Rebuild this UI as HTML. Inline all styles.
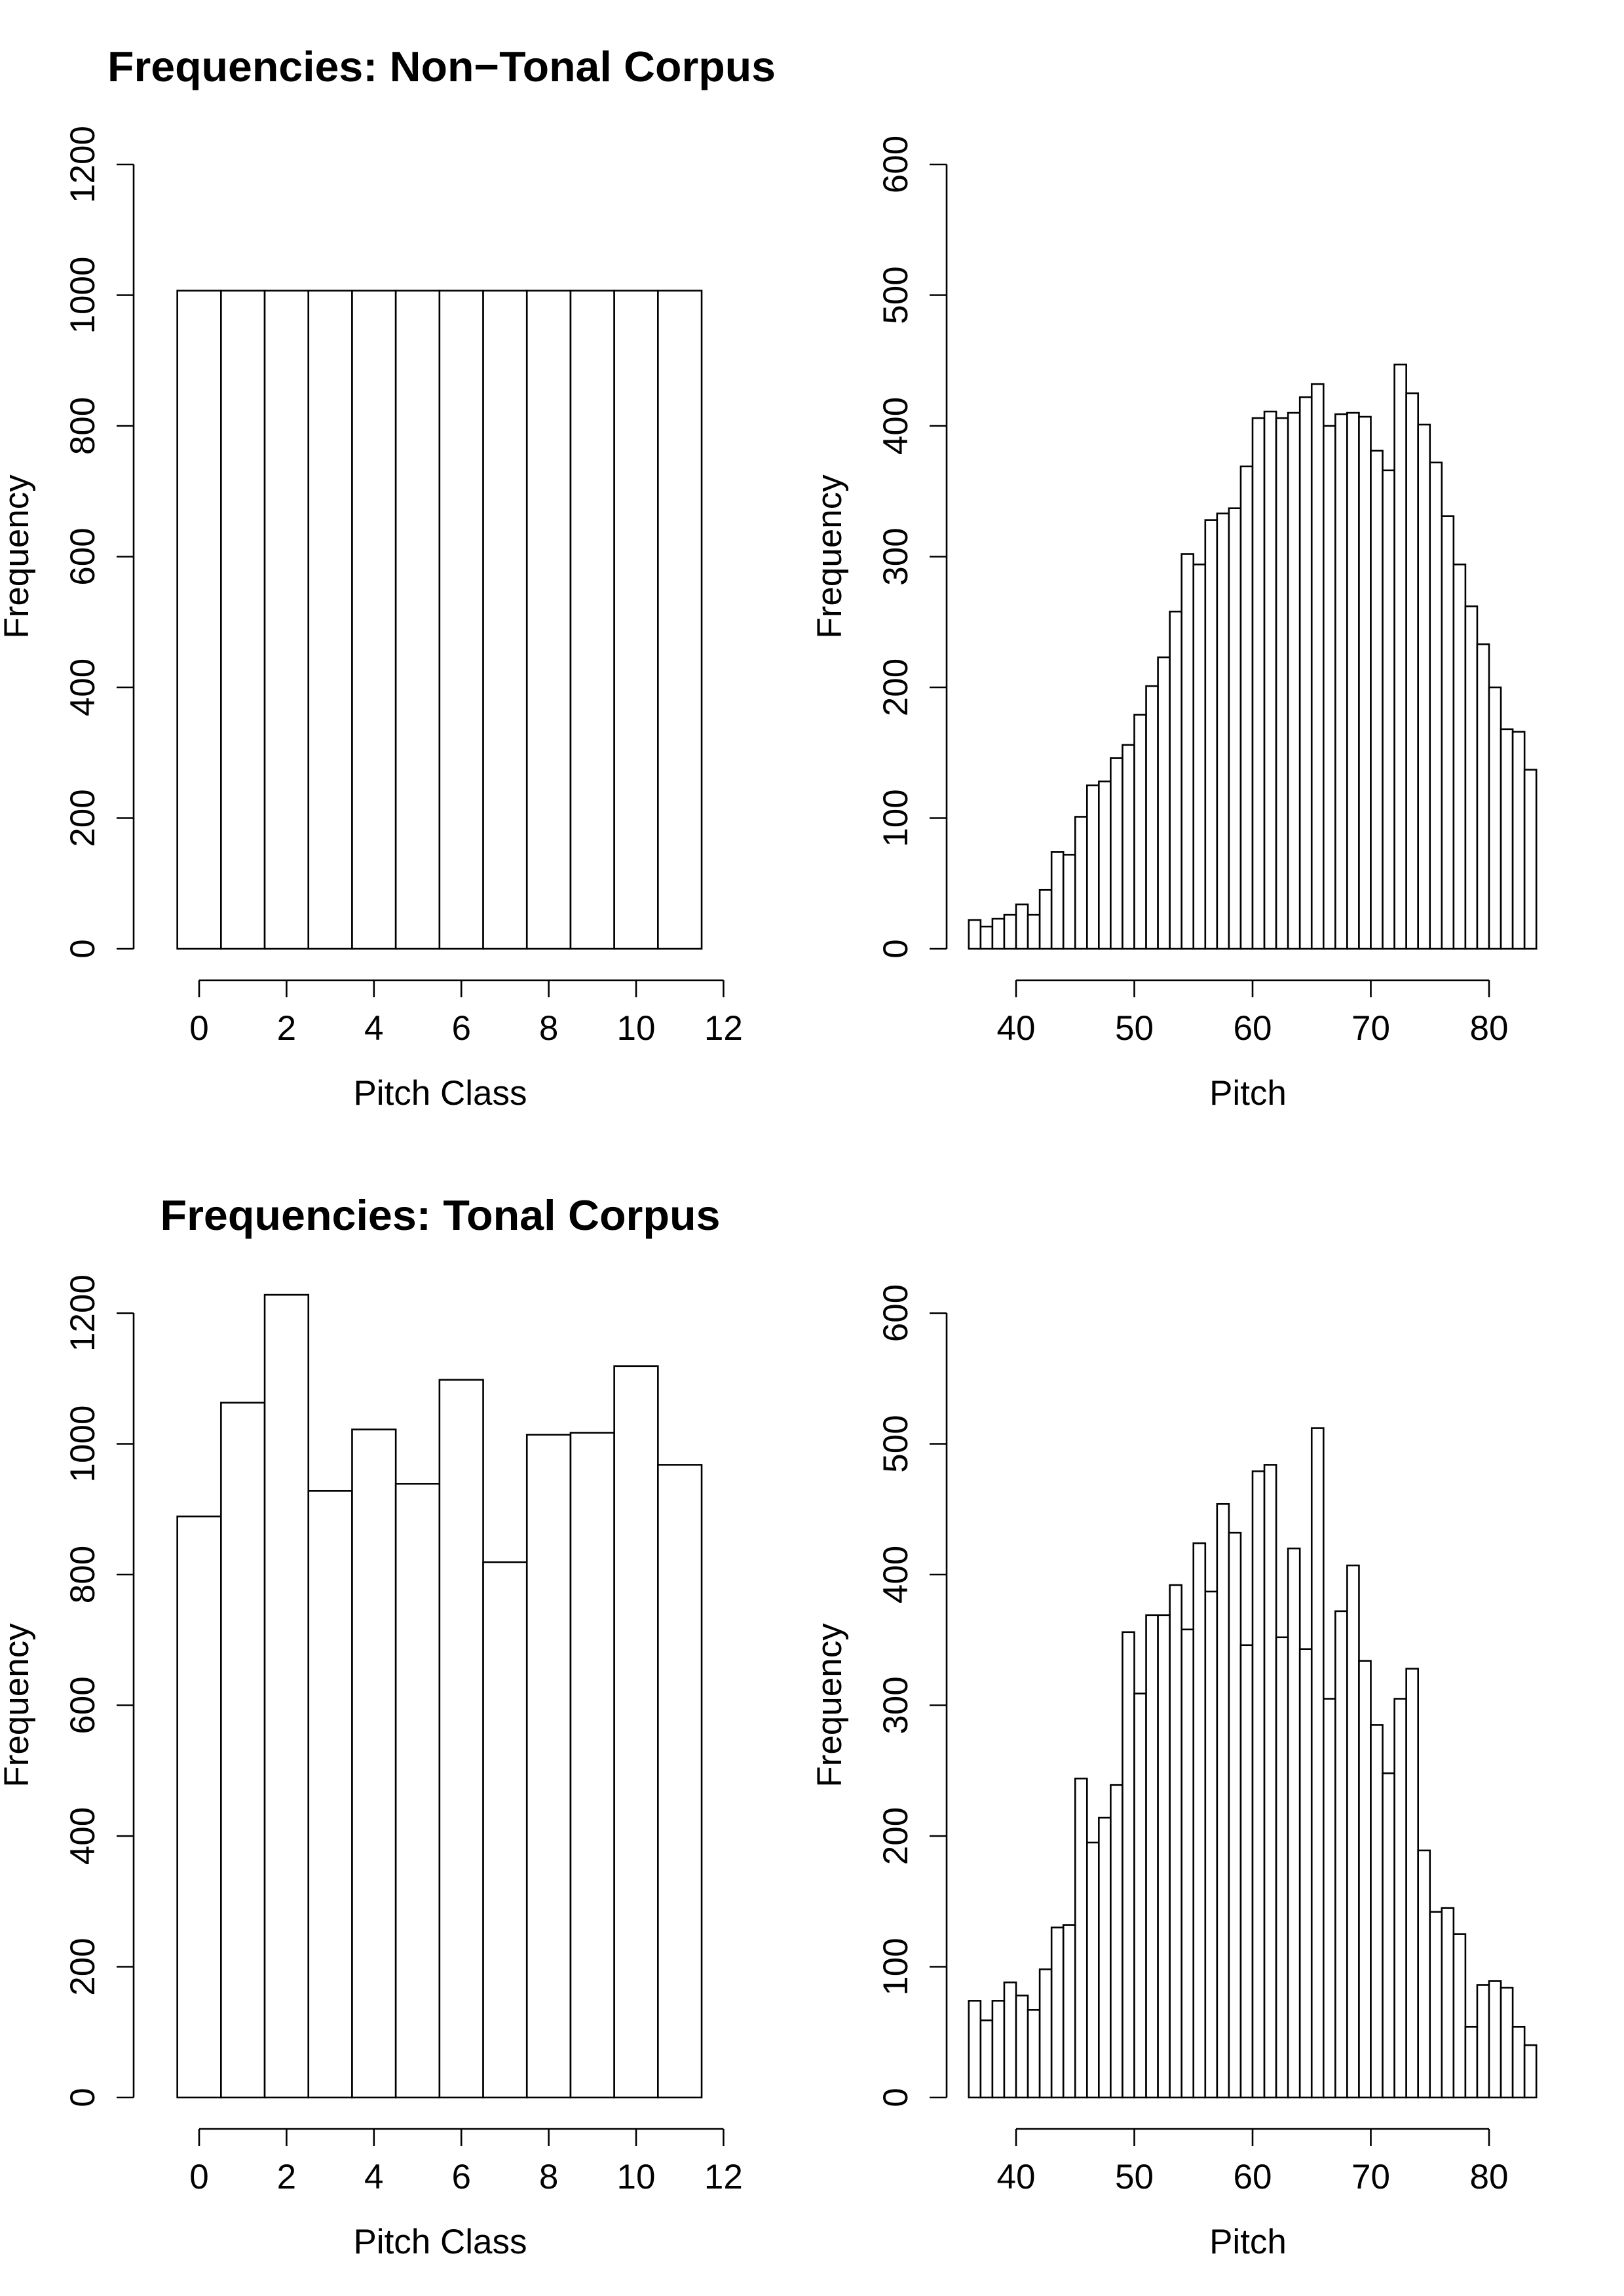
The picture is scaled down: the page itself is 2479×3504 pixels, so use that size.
<!DOCTYPE html>
<html><head><meta charset="utf-8"><style>
html,body{margin:0;padding:0;background:#fff;}
svg{display:block;}
text{font-family:"Liberation Sans",Arial,sans-serif;fill:#000;}
</style></head><body>
<svg id="chart" width="2479" height="3504" viewBox="0 0 2479 3504" xmlns="http://www.w3.org/2000/svg">
<rect width="2479" height="3504" fill="#fff"/>
</svg>
<script>
// ---- data ----
const pcCategories = [0,1,2,3,4,5,6,7,8,9,10,11];
const nonTonalPC = [1007,1007,1007,1007,1007,1007,1007,1007,1007,1007,1007,1007];
const tonalPC = [889,1063,1228,928,1022,939,1098,819,1014,1017,1119,968];
const pitchStart = 36;
const nonTonalPitch = [22,17,23,26,34,26,45,74,72,101,125,128,146,156,179,201,223,258,302,294,328,333,337,369,406,411,406,410,422,432,400,409,410,407,381,366,447,425,401,372,331,294,262,233,200,168,166,137];
const tonalPitch = [74,59,74,88,78,67,98,130,132,244,195,214,239,356,309,369,369,392,358,424,387,454,432,346,479,484,352,420,343,512,305,372,407,334,285,248,305,328,189,142,145,125,54,86,89,84,54,40];
const pcYTicks = [0,200,400,600,800,1000,1200];
const pcXTicks = [0,2,4,6,8,10,12];
const pitchYTicks = [0,100,200,300,400,500,600];
const pitchXTicks = [40,50,60,70,80];

const svg = document.getElementById('chart');
const NS = 'http://www.w3.org/2000/svg';
function mk(tag, attrs, parent){
  const e = document.createElementNS(NS, tag);
  for (const k in attrs) e.setAttribute(k, attrs[k]);
  (parent||svg).appendChild(e);
  return e;
}

function panel(cfg){
  const g = mk('g', {});
  
  
  const y0 = cfg.y0, yTop = 251 + cfg.dy;
  const ys = v => y0 - (v / cfg.yMax) * (y0 - yTop);
  const xs = v => cfg.x0 + (v - cfg.xRef) * cfg.xUnit;
  cfg.values.forEach((v, i) => {
    const left = cfg.binLeft(i);
    const r = mk('rect', {x: xs(left), y: ys(v), width: cfg.xUnit * cfg.binW, height: y0 - ys(v), fill: '#fff', stroke: '#000', 'stroke-width': 2.6}, g);
    
    
  });
  const ya = mk('g', {}, g);
  
  
  const ax = cfg.axisX;
  mk('line', {x1: ax, y1: ys(cfg.yTicks[0]), x2: ax, y2: ys(cfg.yTicks[cfg.yTicks.length-1]), stroke: '#000', 'stroke-width': 2.6}, ya);
  cfg.yTicks.forEach(t => {
    mk('line', {x1: ax - 26, y1: ys(t), x2: ax, y2: ys(t), stroke: '#000', 'stroke-width': 2.6}, ya);
    const tx = mk('text', {x: 0, y: 0, 'font-size': 53, 'text-anchor': 'middle', transform: `translate(${ax - 60},${ys(t)}) rotate(-90)`}, ya);
    tx.textContent = t;
    
    
  });
  const yl = mk('text', {x: 0, y: 0, 'font-size': 53, 'text-anchor': 'middle', transform: `translate(${ax - 161},${(y0 + yTop) / 2}) rotate(-90)`}, g);
  yl.textContent = 'Frequency';
  
  
  const xa = mk('g', {}, g);
  
  
  const ay = y0 + 48;
  mk('line', {x1: xs(cfg.xTicks[0]), y1: ay, x2: xs(cfg.xTicks[cfg.xTicks.length-1]), y2: ay, stroke: '#000', 'stroke-width': 2.6}, xa);
  cfg.xTicks.forEach(t => {
    mk('line', {x1: xs(t), y1: ay, x2: xs(t), y2: ay + 26, stroke: '#000', 'stroke-width': 2.6}, xa);
    const tx = mk('text', {x: xs(t), y: y0 + 139, 'font-size': 53, 'text-anchor': 'middle'}, xa);
    tx.textContent = t;
    
    
  });
  const xl = mk('text', {x: cfg.xLabelX, y: y0 + 238, 'font-size': 53, 'text-anchor': 'middle'}, g);
  xl.textContent = cfg.xLabel;
  
  
  if (cfg.title){
    const tt = mk('text', {x: cfg.titleX, y: 124 + cfg.dy, 'font-size': 65, 'font-weight': 'bold', 'text-anchor': 'middle', textLength: cfg.titleLen, lengthAdjust: 'spacingAndGlyphs'}, g);
    tt.textContent = cfg.title;
    
    
  }
}

const DY = 1753;
[0, DY].forEach((dy, k) => {
  panel({
    name: k === 0 ? 'nontonal-pitch-class-histogram' : 'tonal-pitch-class-histogram',
    dy: dy, y0: 1448 + dy, yMax: 1200, yTicks: pcYTicks, xTicks: pcXTicks,
    axisX: 204, x0: 304, xRef: 0, xUnit: 66.7, binW: 1,
    binLeft: i => pcCategories[i] - 0.5,
    values: k === 0 ? nonTonalPC : tonalPC,
    xLabel: 'Pitch Class', xLabelX: 672,
    title: k === 0 ? 'Frequencies: Non\u2212Tonal Corpus' : 'Frequencies: Tonal Corpus',
    titleLen: k === 0 ? 1020 : 855,
    titleX: k === 0 ? 674 : 672
  });
  panel({
    name: k === 0 ? 'nontonal-pitch-histogram' : 'tonal-pitch-histogram',
    dy: dy, y0: 1448 + dy, yMax: 600, yTicks: pitchYTicks, xTicks: pitchXTicks,
    axisX: 1445, x0: 1551, xRef: 40, xUnit: 18.05, binW: 1,
    binLeft: i => pitchStart + i,
    values: k === 0 ? nonTonalPitch : tonalPitch,
    xLabel: 'Pitch', xLabelX: 1905, title: null
  });
});
</script>
</body></html>
